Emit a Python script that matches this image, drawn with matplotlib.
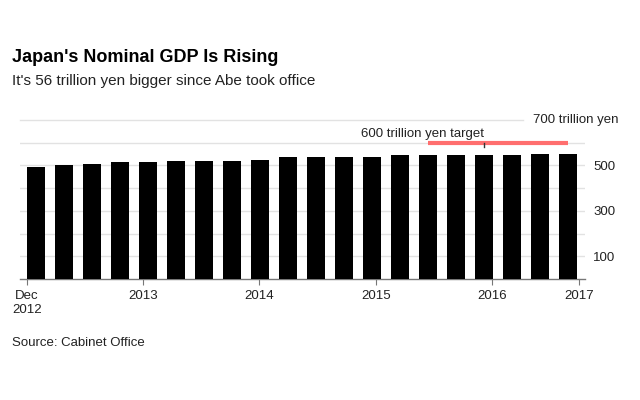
import matplotlib
matplotlib.use("Agg")
import matplotlib.pyplot as plt

plt.rcParams['font.family'] = ['Liberation Sans', 'DejaVu Sans']

# quarterly nominal GDP, trillion yen (Dec 2012 .. 2017)
quarters = ["2012Q4", "2013Q1", "2013Q2", "2013Q3", "2013Q4",
            "2014Q1", "2014Q2", "2014Q3", "2014Q4", "2015Q1",
            "2015Q2", "2015Q3", "2015Q4", "2016Q1", "2016Q2",
            "2016Q3", "2016Q4", "2017Q1", "2017Q2", "2017Q3"]
gdp = [495, 501, 506, 513, 513, 518, 518, 518, 522, 537,
       537, 537, 537, 546, 546, 546, 546, 546, 549, 552]

tick_pos = [-0.32, 3.82, 7.96, 12.14, 16.29, 19.39]
tick_labels = ["Dec\n2012", "2013", "2014", "2015", "2016", "2017"]
ytick_vals = [100, 300, 500]
grid_vals = [100, 200, 300, 400, 500, 600]
target_600 = 600
target_700 = 700

fig = plt.figure(figsize=(6.4, 4), dpi=100)
ax = fig.add_axes([20 / 640, 121 / 400, 565 / 640, 159 / 400])

x = list(range(len(gdp)))
ax.bar(x, gdp, width=0.64, color='black', zorder=3)

ax.set_xlim(-0.57, 19.61)
ax.set_ylim(0, 700)

# gridlines
for g in grid_vals:
    ax.axhline(g, color='#e2e2e2', lw=1, zorder=1)
ax.plot([-0.57, 17.4], [target_700, target_700], color='#e2e2e2', lw=1,
        zorder=1, clip_on=False)

# target line
ax.plot([14.0, 19.0], [target_600, target_600], color='#ff6e6e', lw=3,
        solid_capstyle='butt', zorder=4)
ax.plot([16.0, 16.0], [target_600, 583], color='#333333', lw=1, zorder=5)
ax.text(16.0, 612, "600 trillion yen target", ha='right', va='bottom',
        fontsize=9.5, color='#222222')
ax.text(17.75, target_700, "700 trillion yen", ha='left', va='center',
        fontsize=9.5, color='#222222', clip_on=False)

for s in ['top', 'left', 'right']:
    ax.spines[s].set_visible(False)
ax.spines['bottom'].set_color('#777777')
ax.spines['bottom'].set_linewidth(1)

ax.set_xticks(tick_pos)
ax.set_xticklabels(tick_labels, fontsize=9.5, color='#222222')
ax.tick_params(axis='x', length=4, color='#777777', pad=4)

ax.yaxis.tick_right()
ax.set_yticks(ytick_vals)
ax.set_yticklabels([str(v) for v in ytick_vals], fontsize=9.5, color='#222222')
ax.tick_params(axis='y', length=0, pad=6)

fig.text(12 / 640, 1 - 57 / 400, "Japan's Nominal GDP Is Rising",
         fontsize=13, fontweight='bold', va='center', ha='left', color='black')
fig.text(12 / 640, 1 - 81 / 400, "It's 56 trillion yen bigger since Abe took office",
         fontsize=11, va='center', ha='left', color='#222222')
fig.text(12 / 640, 1 - 343 / 400, "Source: Cabinet Office",
         fontsize=9.5, va='center', ha='left', color='#222222')

fig.savefig("out.png", dpi=100)
